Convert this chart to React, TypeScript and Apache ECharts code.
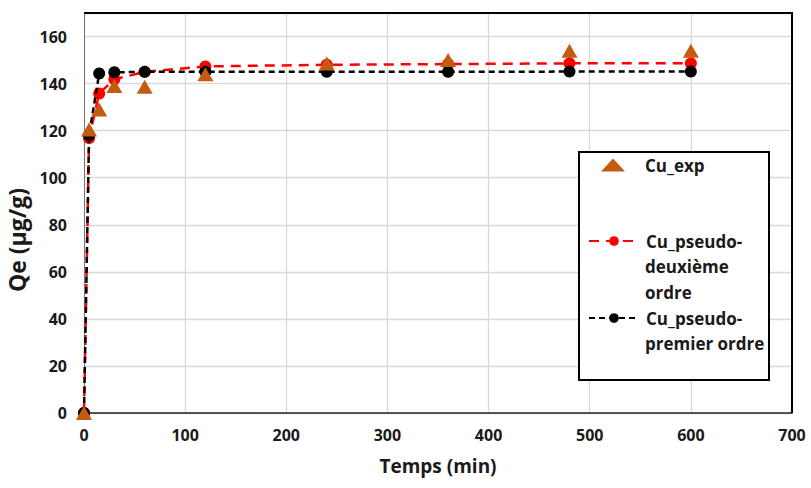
import React, { useEffect, useRef } from "react";
import * as echarts from "echarts";

const times = [0, 5, 15, 30, 60, 120, 240, 360, 480, 600];
const cuExp = [0, 120.5, 129, 139, 138.7, 144, 148.5, 150, 154, 154];
const cuPseudo2 = [0, 116.8, 135.8, 141.8, 145, 147.3, 148, 148.3, 148.6, 148.6];
const cuPseudo1 = [0, 118, 144.3, 144.8, 145, 145, 145, 145, 145.1, 145.1];
const xTicks = { min: 0, max: 700, interval: 100 };
const yTicks = { min: 0, max: 170, interval: 20, lastLabel: 160 };

const FONT = "'Open Sans', 'DejaVu Sans', sans-serif";

export default function App() {
  const ref = useRef<HTMLDivElement>(null);
  useEffect(() => {
    if (!ref.current) return;
    const chart = echarts.init(ref.current, undefined, { renderer: "svg" });
    const pair = (arr: number[]) => times.map((t, i) => [t, arr[i]]);
    const lh = 25.5;
    const legendText = {
      fontFamily: FONT,
      fontWeight: "bold" as const,
      fontSize: 17,
      color: "#1a1a1a",
      lineHeight: lh,
    };
    const extraText = (text: string, x: number, y: number) => ({
      type: "text",
      x,
      y,
      z: 20,
      style: {
        text,
        fontFamily: FONT,
        fontWeight: "bold",
        fontSize: 17,
        fill: "#1a1a1a",
        textVerticalAlign: "middle",
        verticalAlign: "middle",
      },
    });
    chart.setOption({
      animation: false,
      backgroundColor: "#fff",
      grid: {
        left: 84,
        right: 19,
        top: 13,
        bottom: 75,
        containLabel: false,
        outerBoundsMode: "none",
      },
      xAxis: {
        type: "value",
        min: xTicks.min,
        max: xTicks.max,
        interval: xTicks.interval,
        name: "Temps (min)",
        nameLocation: "middle",
        nameGap: 43,
        nameTextStyle: { fontFamily: FONT, fontWeight: "bold", fontSize: 19, color: "#1a1a1a" },
        axisLine: { show: true, lineStyle: { color: "#222", width: 1.5 } },
        axisTick: { show: false },
        axisLabel: { fontFamily: FONT, fontWeight: "bold", fontSize: 16, color: "#1a1a1a", margin: 14 },
        splitLine: { show: true, lineStyle: { color: "#d9d9d9", width: 1.3 } },
      },
      yAxis: {
        type: "value",
        min: yTicks.min,
        max: yTicks.max,
        interval: yTicks.interval,
        name: "Qe (µg/g)",
        nameLocation: "middle",
        nameGap: 38,
        nameTextStyle: {
          fontFamily: FONT,
          fontWeight: "bold",
          fontSize: 23,
          color: "#1a1a1a",
          padding: [0, 54, 0, 0],
        },
        axisLine: { show: true, lineStyle: { color: "#777", width: 1 } },
        axisTick: { show: false },
        axisLabel: {
          fontFamily: FONT,
          fontWeight: "bold",
          fontSize: 16,
          color: "#1a1a1a",
          margin: 17,
          formatter: (v: number) => (v > yTicks.lastLabel ? "" : String(v)),
        },
        splitLine: { show: true, lineStyle: { color: "#d9d9d9", width: 1.3 } },
      },
      legend: [
        {
          data: ["Cu_exp"],
          left: 601,
          top: 165 - lh / 2,
          padding: 0,
          itemWidth: 24,
          itemHeight: 13,
          textStyle: { ...legendText, padding: [0, 0, 0, 15] },
        },
        {
          data: ["Cu_pseudo-deuxième ordre"],
          left: 588,
          top: 241 - lh / 2,
          padding: 0,
          itemWidth: 50,
          itemHeight: 12,
          formatter: () => "Cu_pseudo-",
          textStyle: { ...legendText, padding: [0, 0, 0, 2] },
        },
        {
          data: ["Cu_pseudo-premier ordre"],
          left: 588,
          top: 318 - lh / 2,
          padding: 0,
          itemWidth: 50,
          itemHeight: 12,
          formatter: () => "Cu_pseudo-",
          textStyle: { ...legendText, padding: [0, 0, 0, 2] },
        },
      ],
      graphic: [
        {
          type: "polyline",
          shape: { points: [[84, 13], [792, 13], [792, 413]] },
          style: { stroke: "#000", lineWidth: 2, fill: "none" },
          z: 10,
        },
        {
          type: "rect",
          shape: { x: 579, y: 152, width: 190, height: 228 },
          style: { stroke: "#000", lineWidth: 2, fill: "#fff" },
          z: 1,
        },
        extraText("deuxième", 645, 241 + lh),
        extraText("ordre", 645, 241 + 2 * lh),
        extraText("premier ordre", 645, 318 + lh),
      ],
      series: [
        {
          name: "Cu_pseudo-deuxième ordre",
          type: "line",
          data: pair(cuPseudo2),
          symbol: "circle",
          symbolSize: 12,
          showAllSymbol: true,
          itemStyle: { color: "#FF0000" },
          lineStyle: { color: "#FF0000", width: 2.5, type: [10, 7] },
          z: 3,
        },
        {
          name: "Cu_pseudo-premier ordre",
          type: "line",
          data: pair(cuPseudo1),
          symbol: "circle",
          symbolSize: 12,
          showAllSymbol: true,
          itemStyle: { color: "#000" },
          lineStyle: { color: "#000", width: 2.5, type: [6, 4] },
          z: 4,
        },
        {
          name: "Cu_exp",
          type: "scatter",
          data: pair(cuExp),
          symbol: "triangle",
          symbolSize: [16, 14],
          itemStyle: { color: "#C55A11", opacity: 1 },
          z: 5,
        },
      ],
    });
    return () => chart.dispose();
  }, []);
  return <div ref={ref} style={{ width: 811, height: 488, position: "absolute", left: 0, top: 0 }} />;
}
